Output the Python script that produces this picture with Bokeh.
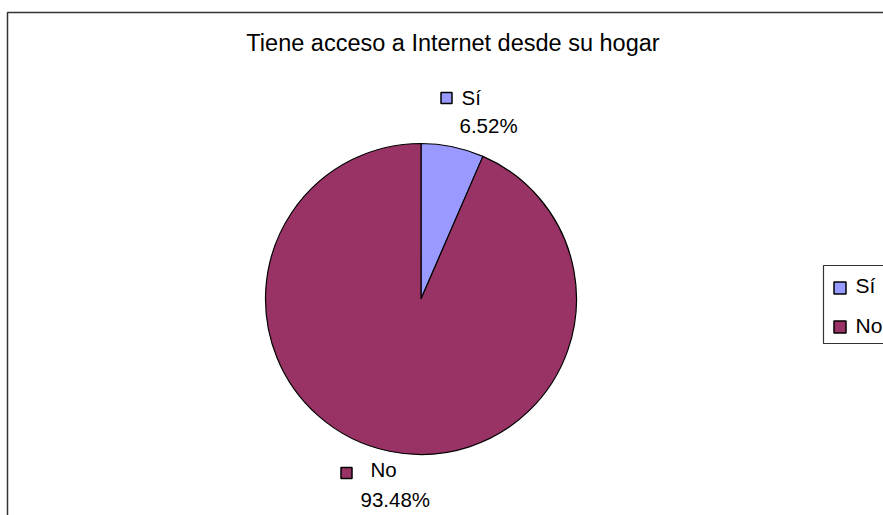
from bokeh.plotting import figure
from bokeh.models import Range1d, ColumnDataSource
from bokeh.core.properties import value
from bokeh.embed import file_html
from bokeh.resources import INLINE
import math

# ---- data ----
categories = ["Sí", "No"]
percent = [6.52, 93.48]
percent_labels = ["6.52%", "93.48%"]
title_text = "Tiene acceso a Internet desde su hogar"
colors = ["#9999FF", "#993366"]

W, H = 883, 515
FONT = "Liberation Sans"

def Y(py):
    return H - py

# empirical correction for the svg text baseline
def TY(py, fs):
    return H - (py - 0.38 * fs)

p = figure(width=W, height=H, output_backend="svg", toolbar_location=None,
           x_range=Range1d(0, W), y_range=Range1d(0, H), min_border=0)
p.axis.visible = False
p.grid.visible = False
p.outline_line_color = None
p.background_fill_color = "white"
p.border_fill_color = "white"

# chart area border
p.quad(left=[7], right=[W + 20], top=[Y(12)], bottom=[Y(H + 20)],
       fill_color=None, line_color="#333333", line_width=1.5)

# pie wedges (start at 12 o'clock, clockwise)
total = sum(percent)
starts, ends = [], []
acc = 0.0
for v in percent:
    a0 = math.pi / 2 - 2 * math.pi * acc / total
    acc += v
    a1 = math.pi / 2 - 2 * math.pi * acc / total
    starts.append(a0)
    ends.append(a1)

cx, cy, r = 420.5, Y(298.5), 155.5
src = ColumnDataSource(dict(cat=categories, start=starts, end=ends, color=colors))
p.wedge(x=cx, y=cy, radius=r, start_angle="start", end_angle="end",
        direction="clock", fill_color="color", line_color="black",
        line_width=1.2, source=src)

# title
p.text(x=[452.5], y=[TY(51, 23.5)], text=[title_text], text_font=value(FONT),
       text_font_size="23.5px", text_align="center",
       text_baseline="alphabetic", text_color="black")

# data labels (layout positions in px)
lab_sq_x = [446, 346]
lab_sq_y = [97.5, 472.5]
lab_name_x = [461, 370]
lab_name_y = [105, 477]
lab_pct_x = [459, 360]
lab_pct_y = [133, 507]

p.scatter(x=lab_sq_x, y=[Y(v) for v in lab_sq_y], marker="square", size=11,
          fill_color=colors, line_color="black", line_width=1.5)
p.text(x=lab_name_x, y=[TY(v, 20.5) for v in lab_name_y], text=categories,
       text_font=value(FONT), text_font_size="20.5px",
       text_baseline="alphabetic", text_align="left", text_color="black")
p.text(x=lab_pct_x, y=[TY(v, 20.5) for v in lab_pct_y], text=percent_labels,
       text_font=value(FONT), text_font_size="20.5px",
       text_baseline="alphabetic", text_align="left", text_color="black")

# legend (drawn manually)
p.quad(left=[823], right=[W + 20], top=[Y(265)], bottom=[Y(343)],
       fill_color="white", line_color="#333333", line_width=1.2)
leg_sq_y = [287.5, 326.5]
leg_txt_y = [293, 333]
p.scatter(x=[839.5, 839.5], y=[Y(v) for v in leg_sq_y], marker="square",
          size=12, fill_color=colors, line_color="black", line_width=1.5)
p.text(x=[855, 855], y=[TY(v, 21) for v in leg_txt_y], text=categories,
       text_font=value(FONT), text_font_size="21px",
       text_baseline="alphabetic", text_align="left", text_color="black")

open("out.html", "w").write(file_html(p, INLINE))
